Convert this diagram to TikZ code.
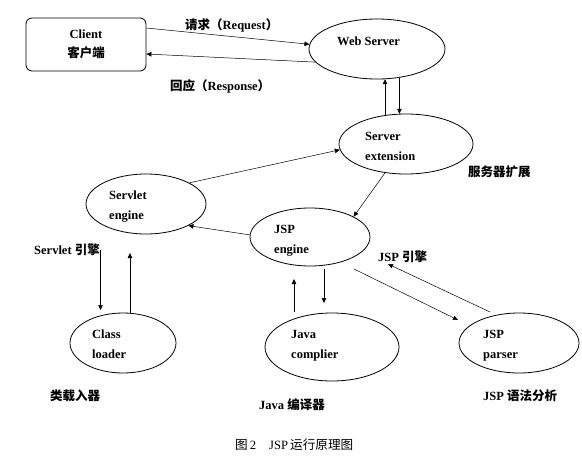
\documentclass[tikz,border=0pt]{standalone}
\usepackage{fontspec}
\setmainfont{Liberation Serif}
\newfontfamily\cjk{Noto Sans CJK SC}
\usetikzlibrary{shapes.geometric,arrows.meta}
\begin{document}
\begin{tikzpicture}[x=1pt,y=-1pt,
  ell/.style={draw,ellipse,line width=0.8pt,inner sep=0pt},
  txt/.style={anchor=west,inner sep=0pt,align=left,font=\fontsize{12.5}{20}\selectfont\bfseries},
  conn/.style={line width=0.5pt,-{Triangle[length=5pt,width=4.5pt]}},
]
\useasboundingbox (0,0) rectangle (582,472);

% nodes
\node[draw,rounded corners=6pt,minimum width=120pt,minimum height=53pt,line width=0.8pt,
      align=center,inner sep=0pt,font=\fontsize{12.5}{19}\selectfont\bfseries] (client) at (86,44.5) {Client\\{\cjk 客户端}};
\node[ell,minimum width=136pt,minimum height=60pt] (ws) at (377,49) {};
\node[ell,minimum width=134pt,minimum height=60pt] (se) at (406,144) {};
\node[ell,minimum width=120pt,minimum height=60pt] (sv) at (146,204) {};
\node[ell,minimum width=120pt,minimum height=58pt] (je) at (310,237) {};
\node[ell,minimum width=106pt,minimum height=60pt] (cl) at (123,343) {};
\node[ell,minimum width=134pt,minimum height=68pt] (jc) at (332,347) {};
\node[ell,minimum width=120pt,minimum height=60pt] (jp) at (519,343) {};

% texts inside ellipses
\node[txt] (wst) at (337,41) {Web Server};
\node[txt] (set) at (365,146) {Server\\extension};
\node[txt] (svt) at (109,206.5) {Servlet\\engine};
\node[txt] (jet) at (274,240.5) {JSP\\engine};
\node[txt] (clt) at (92,344.5) {Class\\loader};
\node[txt] (jct) at (291,346) {Java\\complier};
\node[txt] (jpt) at (483,345.5) {JSP\\parser};

% free connector ends
\coordinate (s1) at (100.5,250);
\coordinate (s2) at (100.5,310);
\coordinate (c2) at (130,253);
\coordinate (j1) at (294,312);
\coordinate (j2) at (294,279);
\coordinate (j3) at (324,269);
\coordinate (j4) at (324,303);
\coordinate (p1) at (354,269);
\coordinate (p2) at (458,320);
\coordinate (p3) at (490,312);
\coordinate (p4) at (388,264);

% connectors
\draw[conn] ([yshift=16.5pt]client.east) -- (ws.176);
\draw[conn] (ws.192) -- ([yshift=-9.5pt]client.east);
\draw[conn] (se.126) -- (se.126 |- ws.285);
\draw[conn] (ws.308) -- (ws.308 |- se.103);
\draw[conn] (sv.26) -- (se.185);
\draw[conn] (se.234) -- (je.25);
\draw[conn] (je.178) -- (sv.333);
\draw[conn] (s1) -- (s2);
\draw[conn] (cl.77) -- (cl.77 |- c2);
\draw[conn] (j1) -- (j2);
\draw[conn] (j3) -- (j4);
\draw[conn] (p1) -- (p2);
\draw[conn] (p3) -- (p4);

% labels
\node[txt] (req) at (185,25) {{\cjk 请求（}Request{\cjk ）}};
\node[txt] (resp) at (170,86) {{\cjk 回应（}Response{\cjk ）}};
\node[txt] (sel) at (468,172) {\cjk 服务器扩展};
\node[txt] (svl) at (34,250) {Servlet {\cjk 引擎}};
\node[txt] (cll) at (50,396) {\cjk 类载入器};
\node[txt] (jcl) at (259,405) {Java {\cjk 编译器}};
\node[txt] (jel) at (378,257) {JSP {\cjk 引擎}};
\node[txt] (jpl) at (483,396) {JSP {\cjk 语法分析}};
\node[anchor=west,inner sep=0pt,font=\fontsize{12.6}{14}\selectfont] (cap) at (235,445)
  {{\cjk 图}\,2\hspace{13pt}JSP\,{\cjk 运行原理图}};
\end{tikzpicture}
\end{document}
